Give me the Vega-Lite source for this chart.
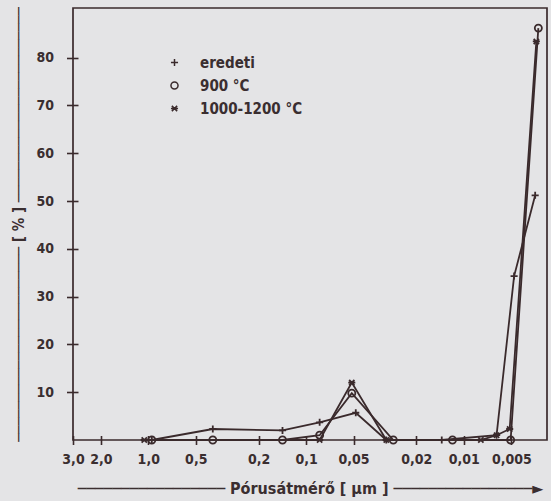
{
  "$schema": "https://vega.github.io/schema/vega-lite/v6.json",
  "width": 474,
  "height": 432,
  "autosize": "none",
  "padding": {"left": 73, "top": 8, "right": 4, "bottom": 61},
  "background": "#e4e4e6",
  "config": {
    "view": {"stroke": "#3a2a2c", "strokeWidth": 1.7},
    "font": "DejaVu Sans Condensed",
    "axis": {
      "domain": false,
      "grid": false,
      "tickColor": "#3a2a2c",
      "tickWidth": 1.6,
      "labelColor": "#3a2e30",
      "labelFont": "DejaVu Sans Condensed",
      "labelFontSize": 14,
      "labelFontWeight": "bold",
      "titleColor": "#3a2e30",
      "titleFont": "DejaVu Sans Condensed",
      "titleFontSize": 15,
      "titleFontWeight": "bold"
    },
    "legend": {
      "orient": "none",
      "legendX": 94,
      "legendY": 47,
      "padding": 0,
      "rowPadding": 7,
      "labelFont": "DejaVu Sans Condensed",
      "labelFontSize": 15,
      "labelFontWeight": "bold",
      "labelColor": "#3a2e30",
      "labelOffset": 18,
      "symbolSize": 50
    }
  },
  "data": {
    "values": [
      {"s": "eredeti", "d": 0.95, "p": 0},
      {"s": "eredeti", "d": 0.39, "p": 2.3},
      {"s": "eredeti", "d": 0.141, "p": 2.0},
      {"s": "eredeti", "d": 0.082, "p": 3.7},
      {"s": "eredeti", "d": 0.0484, "p": 5.7},
      {"s": "eredeti", "d": 0.031, "p": 0},
      {"s": "eredeti", "d": 0.0138, "p": 0},
      {"s": "eredeti", "d": 0.0062, "p": 1.0},
      {"s": "eredeti", "d": 0.0048, "p": 34.3},
      {"s": "eredeti", "d": 0.00353, "p": 51.2},
      {"s": "900 °C", "d": 0.95, "p": 0},
      {"s": "900 °C", "d": 0.39, "p": 0},
      {"s": "900 °C", "d": 0.141, "p": 0},
      {"s": "900 °C", "d": 0.082, "p": 1.0},
      {"s": "900 °C", "d": 0.0513, "p": 9.8},
      {"s": "900 °C", "d": 0.028, "p": 0},
      {"s": "900 °C", "d": 0.0118, "p": 0},
      {"s": "900 °C", "d": 0.00505, "p": 0},
      {"s": "900 °C", "d": 0.00337, "p": 86.2},
      {"s": "1000-1200 °C", "d": 1.06, "p": 0},
      {"s": "1000-1200 °C", "d": 0.082, "p": 0},
      {"s": "1000-1200 °C", "d": 0.0513, "p": 12.0},
      {"s": "1000-1200 °C", "d": 0.031, "p": 0},
      {"s": "1000-1200 °C", "d": 0.0078, "p": 0},
      {"s": "1000-1200 °C", "d": 0.0062, "p": 1.0},
      {"s": "1000-1200 °C", "d": 0.00512, "p": 2.3},
      {"s": "1000-1200 °C", "d": 0.00347, "p": 83.4}
    ]
  },
  "encoding": {
    "x": {
      "field": "d",
      "type": "quantitative",
      "scale": {"type": "log", "domain": [3.0, 0.00297]},
      "axis": {
        "values": [3, 2, 1, 0.5, 0.2, 0.1, 0.05, 0.02, 0.01, 0.005],
        "labelExpr": "replace(datum.value >= 1 ? format(datum.value, '.1f') : toString(datum.value), '.', ',')",
        "offset": -4.5,
        "tickSize": 9,
        "labelPadding": 8,
        "labelFlush": false,
        "labelOverlap": false,
        "title": "─────────────────  Pórusátmérő [ µm ]  ────────────────►",
        "titleFontSize": 16,
        "titlePadding": 14
      }
    },
    "y": {
      "field": "p",
      "type": "quantitative",
      "scale": {"domain": [0, 90.4]},
      "axis": {
        "values": [10, 20, 30, 40, 50, 60, 70, 80],
        "offset": -5,
        "tickSize": 11.5,
        "labelPadding": 13,
        "title": "────────────────────────  [  %  ]  ────────────────────────",
        "titlePadding": 9
      }
    }
  },
  "layer": [
    {
      "mark": {"type": "line", "color": "#3a2a2c", "strokeWidth": 1.8},
      "encoding": {"detail": {"field": "s"}}
    },
    {
      "mark": {"type": "point", "filled": false, "color": "#3a2a2c", "strokeWidth": 1.8, "opacity": 1, "size": 50},
      "encoding": {
        "shape": {
          "field": "s",
          "type": "nominal",
          "scale": {
            "domain": ["eredeti", "900 °C", "1000-1200 °C"],
            "range": ["M-1,0L1,0M0,-1L0,1", "circle", "M-1,0L1,0M-0.75,-0.75L0.75,0.75M-0.75,0.75L0.75,-0.75"]
          },
          "legend": {
            "title": null,
            "encode": {
              "symbols": {
                "update": {
                  "stroke": {"value": "#3a2a2c"},
                  "strokeWidth": {"value": 1.8},
                  "fill": {"value": "transparent"},
                  "opacity": {"value": 1}
                }
              }
            }
          }
        }
      }
    }
  ]
}
